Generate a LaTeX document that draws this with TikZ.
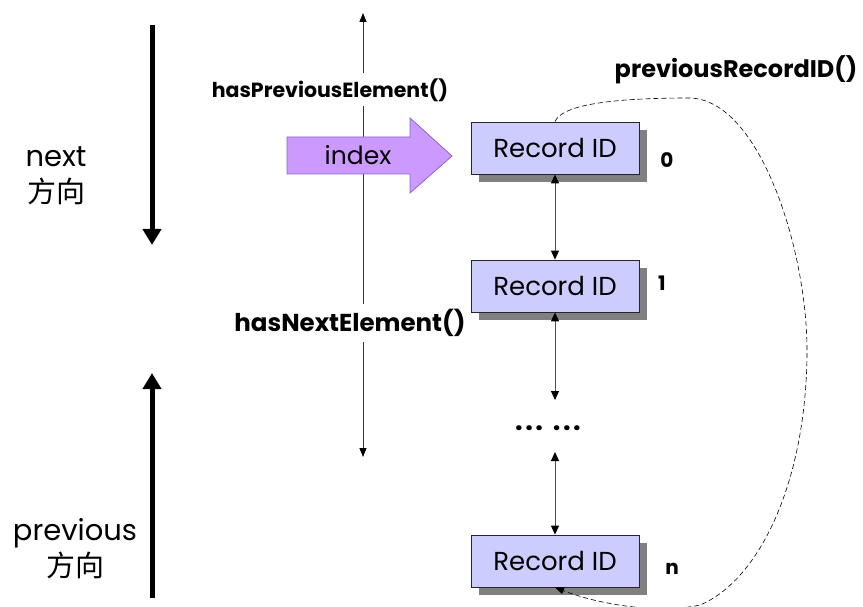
\documentclass[tikz,border=0pt]{standalone}
\usepackage{fontspec}
\setmainfont{Poppins}
\newfontfamily\cjk{Noto Sans CJK SC}
\usetikzlibrary{arrows.meta,shadows}
\definecolor{recfill}{HTML}{CCCCFF}
\definecolor{idxfill}{HTML}{CC99FF}
\definecolor{idxline}{HTML}{8A66CC}
\definecolor{linkgray}{HTML}{505050}
\begin{document}
\begin{tikzpicture}[x=1pt,y=-1pt,
  recbox/.style={draw=black!85,line width=0.8pt,fill=recfill,minimum width=168pt,minimum height=52pt,
    inner sep=0pt,font=\fontsize{26}{26}\selectfont,
    drop shadow={shadow xshift=8pt,shadow yshift=-8pt,fill=black!50,opacity=1}},
  idxlabel/.style={font=\fontsize{20}{20}\selectfont\bfseries},
  method/.style={fill=white,inner xsep=2pt,inner ysep=5pt},
  dirlabel/.style={font=\fontsize{29}{36}\selectfont,align=center,inner sep=0pt},
  link/.style={draw=linkgray,line width=0.9pt,{Triangle[width=8pt,length=9pt,color=black]}-{Triangle[width=8pt,length=9pt,color=black]}},
  thin nav/.style={draw=black!80,line width=0.8pt,-{Triangle[width=7pt,length=9pt,color=black]}},
  bigarrow/.style={line width=5pt,-{Triangle[width=18pt,length=16pt]}},
]
\useasboundingbox (0,0) rectangle (863,607);

% navigation line with its two method labels
\coordinate (navtop) at (363,13);
\coordinate (navbot) at (363,457);
\coordinate (navmid) at (363,150);
\draw[thin nav] (navmid) -- (navtop);
\draw[thin nav] (navmid) -- (navbot);
\node[method,font=\fontsize{20.5}{21}\selectfont\bfseries] (hasprev) at (330,90) {hasPreviousElement()};
\node[method,font=\fontsize{24.5}{25}\selectfont\bfseries] (hasnext) at (350,323) {hasNextElement()};

% index pointer
\draw[fill=idxfill,draw=idxline,line width=0.8pt]
  (287,137) -- (410,137) -- (410,118) -- (452,156) -- (410,193) -- (410,174) -- (287,174) -- cycle;
\node[font=\fontsize{25}{25}\selectfont] (index) at (358,155) {index};

% record list
\node[recbox] (r0) at (555,148) {Record ID};
\node[recbox] (r1) at (555,286) {Record ID};
\node[recbox] (rn) at (555,561) {Record ID};
\node[idxlabel] (l0) at (667,160) {0};
\node[idxlabel] (l1) at (662,283) {1};
\node[idxlabel] (ln) at (672,569) {n};

\coordinate (gaptop) at (555,400);
\coordinate (gapbot) at (555,452);
\node[font=\fontsize{27}{27}\selectfont\bfseries,inner sep=0pt] (dots) at (548,428)
  {.\hspace{2.5pt}.\hspace{2.5pt}.\hspace{10pt}.\hspace{2.5pt}.\hspace{2.5pt}.};

\draw[link] (r0.south) -- (r1.north);
\draw[link] (r1.south) -- (gaptop);
\draw[link] (gapbot) -- (rn.north);

% wrap-around link back to the last record
\node[method,font=\fontsize{24}{24}\selectfont\bfseries,inner ysep=2pt] (prevrec) at (736,70) {previousRecordID()};
\draw[line width=0.6pt,dash pattern=on 5pt off 3pt,-{Triangle[width=7pt,length=9pt]}]
  (r0.north) .. controls (562,105) and (610,98) .. (690,98)
  .. controls (760,100) and (807,250) .. (807,350)
  .. controls (807,480) and (760,580) .. (700,605)
  .. controls (660,614) and (600,605) .. (rn.south);

% direction indicators
\draw[bigarrow] (152,25) -- (152,245);
\draw[bigarrow] (152,598) -- (152,373);
\node[dirlabel] (nextlbl) at (56,176) {next\\{\cjk 方向}};
\node[dirlabel] (prevlbl) at (75,549) {previous\\{\cjk 方向}};
\end{tikzpicture}
\end{document}
